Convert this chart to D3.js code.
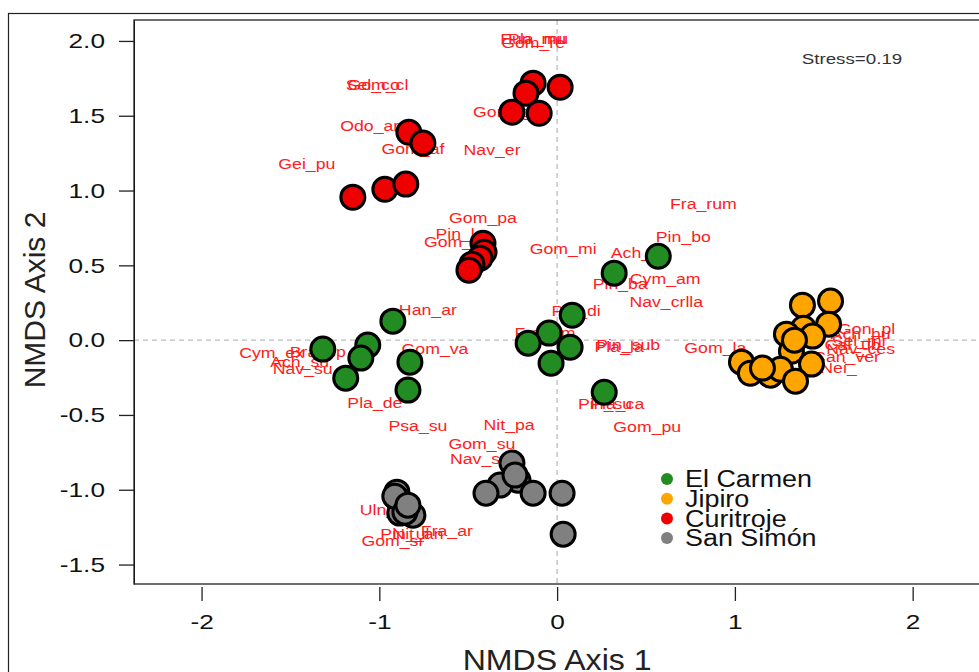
<!DOCTYPE html>
<meta charset="utf-8">
<body style="margin:0;background:#fff;">
<script src="https://d3js.org/d3.v7.min.js"></script>
<script>
	// legend / groups
	var sites = ["El Carmen", "Jipiro", "Curitroje", "San Simón"];
	var siteColors = ["#228b22", "#ffa500", "#ee0000", "#808080"];

	// NMDS sample scores
	var carmenX = [0.569, 0.321, 0.085, -0.045, -0.163, 0.073, -0.034, 0.265, -0.924, -1.318, -1.065, -1.104, -1.189, -0.828, -0.839];
	var carmenY = [0.561, 0.448, 0.167, 0.047, -0.020, -0.047, -0.154, -0.348, 0.127, -0.060, -0.033, -0.120, -0.254, -0.147, -0.334];
	var jipiroX = [1.380, 1.538, 1.527, 1.386, 1.290, 1.437, 1.318, 1.037, 1.087, 1.200, 1.256, 1.431, 1.341, 1.335, 1.155];
	var jipiroY = [0.234, 0.261, 0.107, 0.080, 0.040, 0.027, -0.074, -0.147, -0.221, -0.234, -0.194, -0.160, -0.274, 0.000, -0.187];
	var curitrojeX = [-0.135, -0.175, 0.017, -0.254, -0.101, -0.834, -0.755, -1.149, -0.969, -0.851, -0.417, -0.411, -0.434, -0.479, -0.496];
	var curitrojeY = [1.718, 1.651, 1.691, 1.524, 1.517, 1.390, 1.317, 0.956, 1.009, 1.043, 0.648, 0.588, 0.548, 0.508, 0.468];
	var simonX = [-0.254, -0.220, -0.321, -0.400, -0.135, 0.028, 0.034, -0.901, -0.896, -0.811, -0.885, -0.913, -0.856, -0.237, -0.839];
	var simonY = [-0.822, -0.936, -0.969, -1.023, -1.023, -1.023, -1.297, -1.016, -1.063, -1.170, -1.156, -1.043, -1.150, -0.902, -1.103];

	// species scores (labels)
	var spNames = ["Eun_mu", "Gom_re", "Pla_mu", "Sel_co", "Gom_cl", "Gom_gr", "Odo_ar", "Gom_af", "Nav_er", "Gei_pu",
		"Fra_rum", "Gom_pa", "Pin_la", "Gom_ol", "Gom_mi", "Ach_mi", "Pin_bo", "Cym_am", "Pin_ba", "Nav_crlla",
		"Han_ar", "Pin_di", "Fra_um", "Pin_sub", "Pla_la", "Gom_la", "Gom_va", "Cym_ex", "Bra_sp", "Ach_su",
		"Nav_su", "Pla_de", "Pin_su", "Pla_ca", "Gom_pu", "Psa_su", "Nit_pa", "Gom_su", "Nav_sp", "Uln_ul",
		"Fra_ar", "Pin_ul", "Nit_an", "Gom_sr", "Gon_pl", "Ach_hu", "Sel_mi", "Cal_ub", "Nav_ces", "Can_ver", "Nei_"];
	var spX = [-0.135, -0.135, -0.107, -1.037, -1.008, -0.293, -1.054, -0.811, -0.366, -1.408,
		0.823, -0.417, -0.546, -0.575, 0.034, 0.468, 0.710, 0.608, 0.355, 0.614,
		-0.727, 0.107, -0.068, 0.400, 0.349, 0.890, -0.687, -1.606, -1.346, -1.448,
		-1.431, -1.025, 0.270, 0.338, 0.507, -0.783, -0.270, -0.423, -0.434, -0.969,
		-0.620, -0.856, -0.783, -0.924, 1.741, 1.707, 1.696, 1.662, 1.707, 1.628, 1.583];
	var spY = [2.012, 1.985, 2.012, 1.705, 1.705, 1.524, 1.430, 1.277, 1.270, 1.176,
		0.909, 0.816, 0.709, 0.655, 0.608, 0.582, 0.689, 0.408, 0.374, 0.254,
		0.201, 0.194, 0.047, -0.033, -0.047, -0.053, -0.060, -0.087, -0.080, -0.147,
		-0.194, -0.421, -0.428, -0.428, -0.582, -0.575, -0.568, -0.695, -0.795, -1.136,
		-1.277, -1.297, -1.297, -1.344, 0.074, 0.040, -0.007, -0.033, -0.060, -0.114, -0.187];

	var xTicks = [-2, -1, 0, 1, 2];
	var yTicks = [-1.5, -1.0, -0.5, 0.0, 0.5, 1.0, 1.5, 2.0];
	var stressText = "Stress=0.19";

	// plot region
	var W = 979, H = 672;
	var box = {left: 134, top: 20, right: 982, bottom: 584};
	var font = "'Liberation Sans', Arial, sans-serif";

	var x = d3.scaleLinear().domain([-2.38, 2.39]).range([box.left, box.right]);
	var y = d3.scaleLinear().domain([-1.63, 2.14]).range([box.bottom, box.top]);

	var svg = d3.select("body").append("svg")
		.attr("width", W)
		.attr("height", H)
		.style("display", "block");

	// outer figure frame
	svg.append("rect")
		.attr("x", 8.5).attr("y", 13.5)
		.attr("width", W).attr("height", H)
		.style("fill", "none").style("stroke", "#222").style("stroke-width", 1.2);

	// zero lines
	svg.append("line")
		.attr("x1", box.left).attr("x2", box.right)
		.attr("y1", y(0)).attr("y2", y(0))
		.style("stroke", "#bdbdbd").style("stroke-dasharray", "5,4").style("stroke-width", 1.3);
	svg.append("line")
		.attr("x1", x(0)).attr("x2", x(0))
		.attr("y1", box.top).attr("y2", box.bottom)
		.style("stroke", "#bdbdbd").style("stroke-dasharray", "5,4").style("stroke-width", 1.3);

	// axes (plain hyphen for negatives, like R)
	var yAxis = svg.append("g")
		.attr("transform", "translate(" + box.left + ",0)")
		.call(d3.axisLeft(y).tickValues(yTicks)
			.tickFormat(function(d) { return d.toFixed(1); })
			.tickSize(15).tickPadding(14).tickSizeOuter(0));
	yAxis.selectAll("text")
		.attr("x", -29 / 1.25)
		.attr("transform", "scale(1.25,1)")
		.style("font-family", font).style("font-size", "21px").style("fill", "#111");

	var xAxis = svg.append("g")
		.attr("transform", "translate(0," + (box.bottom + 3) + ")")
		.call(d3.axisBottom(x).tickValues(xTicks)
			.tickFormat(function(d) { return String(d); })
			.tickSize(14).tickPadding(13).tickSizeOuter(0));
	xAxis.select(".domain").remove();
	xAxis.selectAll("text")
		.attr("transform", "scale(1.25,1)")
		.style("font-family", font).style("font-size", "21px").style("fill", "#111");
	svg.selectAll(".tick line").style("stroke", "#222").style("stroke-width", 1.3);

	// box
	svg.append("rect")
		.attr("x", box.left).attr("y", box.top)
		.attr("width", box.right - box.left).attr("height", box.bottom - box.top)
		.style("fill", "none").style("stroke", "#222").style("stroke-width", 1.3);

	// axis titles
	svg.append("text")
		.attr("transform", "translate(" + x(0) + ",670) scale(1.07,1)")
		.attr("text-anchor", "middle")
		.style("font-family", font).style("font-size", "30px").style("fill", "#222")
		.text("NMDS Axis 1");
	svg.append("text")
		.attr("transform", "translate(45,300) rotate(-90)")
		.attr("text-anchor", "middle")
		.style("font-family", font).style("font-size", "30px").style("fill", "#222")
		.text("NMDS Axis 2");

	// species labels (under the points)
	var species = spNames.map(function(d, i) { return {name: d, x: spX[i], y: spY[i]}; });
	svg.append("g").selectAll("text")
		.data(species)
		.enter().append("text")
		.attr("transform", function(d) { return "translate(" + x(d.x) + "," + y(d.y) + ") scale(1.18,1)"; })
		.attr("text-anchor", "middle")
		.attr("dy", "0.35em")
		.style("font-family", font).style("font-size", "15px").style("fill", "#ff1c1c")
		.text(function(d) { return d.name; });

	// sample points
	var xs = [carmenX, jipiroX, curitrojeX, simonX];
	var ys = [carmenY, jipiroY, curitrojeY, simonY];
	var samples = [];
	xs.forEach(function(arr, g) {
		arr.forEach(function(v, i) { samples.push({g: g, x: v, y: ys[g][i]}); });
	});
	svg.append("g").selectAll("circle")
		.data(samples)
		.enter().append("circle")
		.attr("cx", function(d) { return x(d.x); })
		.attr("cy", function(d) { return y(d.y); })
		.attr("r", 12)
		.style("fill", function(d) { return siteColors[d.g]; })
		.style("stroke", "#000")
		.style("stroke-width", 3);

	// stress
	svg.append("text")
		.attr("transform", "translate(852,64) scale(1.25,1)")
		.attr("text-anchor", "middle")
		.style("font-family", font).style("font-size", "15px").style("fill", "#333")
		.text(stressText);

	// legend
	var legend = svg.append("g").selectAll("g")
		.data(sites)
		.enter().append("g")
		.attr("transform", function(d, i) { return "translate(667," + (479 + i * 19.7) + ")"; });
	legend.append("circle")
		.attr("r", 6)
		.style("fill", function(d, i) { return siteColors[i]; });
	legend.append("text")
		.attr("transform", "translate(18,0) scale(1.17,1)")
		.attr("dy", "0.36em")
		.style("font-family", font).style("font-size", "23px").style("fill", "#111")
		.text(function(d) { return d; });
</script>
</body>
